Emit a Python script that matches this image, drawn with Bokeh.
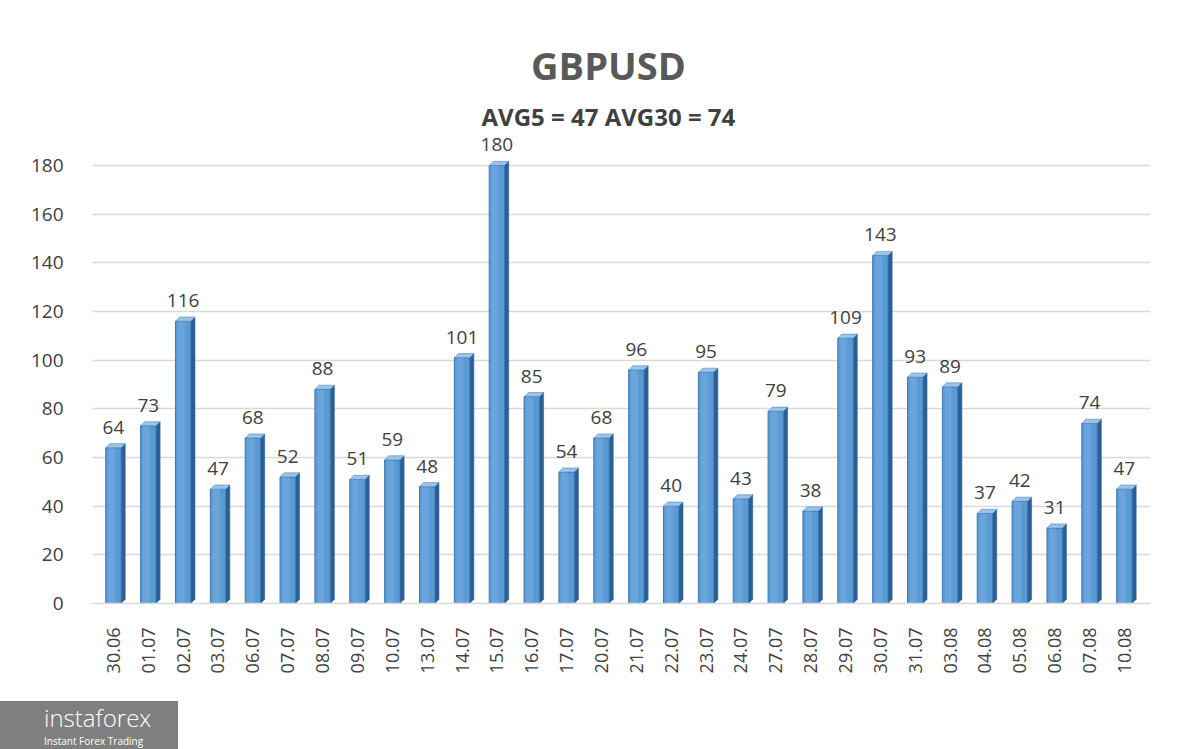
import numpy as np
from bokeh.plotting import figure
from bokeh.models import FixedTicker, Label, ColumnDataSource, Div
from bokeh.layouts import column
from bokeh.core.properties import value
from bokeh.embed import file_html
from bokeh.resources import INLINE

# ---- data ----
dates = ["30.06", "01.07", "02.07", "03.07", "06.07", "07.07", "08.07", "09.07",
         "10.07", "13.07", "14.07", "15.07", "16.07", "17.07", "20.07", "21.07",
         "22.07", "23.07", "24.07", "27.07", "28.07", "29.07", "30.07", "31.07",
         "03.08", "04.08", "05.08", "06.08", "07.08", "10.08"]
values = [64, 73, 116, 47, 68, 52, 88, 51, 59, 48, 101, 180, 85, 54, 68, 96,
          40, 95, 43, 79, 38, 109, 143, 93, 89, 37, 42, 31, 74, 47]
y_ticks = [0, 20, 40, 60, 80, 100, 120, 140, 160, 180]
title_text = "GBPUSD"
subtitle_text = "AVG5 = 47 AVG30 = 74"
logo_name = "instaforex"
logo_tagline = "Instant Forex Trading"

FONT = "Open Sans"
TEXT_COLOR = "#404040"

x = np.arange(len(values))
v = np.array(values, dtype=float)

W = 1184
H = 701
FRAME_BOTTOM = 603
p = figure(width=W, height=H, output_backend="svg", toolbar_location=None,
           x_range=(-0.6, 29.75), y_range=(0, 247.8),
           min_border_left=92, min_border_right=34, min_border_top=0,
           min_border_bottom=H - FRAME_BOTTOM)
p.outline_line_color = None
p.background_fill_color = "white"
p.border_fill_color = "white"

# grid
p.xgrid.grid_line_color = None
p.ygrid.grid_line_color = "#D9D9D9"
p.ygrid.grid_line_width = 1.5

# bars: 3D look (front, side, top)
bw = 0.44
dx = 0.12
dy = 1.7
front = ColumnDataSource(dict(x=x, top=v))
side_xs = [[xi + bw / 2, xi + bw / 2 + dx, xi + bw / 2 + dx, xi + bw / 2] for xi in x]
side_ys = [[0, dy, vi + dy, vi] for vi in v]
top_xs = [[xi - bw / 2, xi + bw / 2, xi + bw / 2 + dx, xi - bw / 2 + dx] for xi in x]
top_ys = [[vi, vi, vi + dy, vi + dy] for vi in v]

p.patches(side_xs, side_ys, fill_color="#2C5F93", line_color="#2C5F93", line_width=0.5)
p.vbar(x="x", top="top", width=bw, bottom=0, source=front,
       fill_color="#5B9BD5", line_color="#3D78B0", line_width=1)
p.vbar(x=x - bw * 0.12, top=v, width=bw * 0.45, bottom=0,
       fill_color="#6FA9DE", line_color=None, fill_alpha=0.7)
p.patches(top_xs, top_ys, fill_color="#9CC3E8", line_color="#3D78B0", line_width=0.5)

# value labels
p.text(x=x, y=v + dy, text=[str(int(val)) for val in values],
       text_font=value(FONT), text_font_size="19px", text_color=TEXT_COLOR,
       text_align="center", text_baseline="bottom", y_offset=-10)

# axes
p.xaxis.ticker = FixedTicker(ticks=list(range(len(dates))))
p.xaxis.major_label_overrides = {i: d for i, d in enumerate(dates)}
p.xaxis.major_label_orientation = np.pi / 2
p.xaxis.major_label_text_font = FONT
p.xaxis.major_label_text_font_size = "18px"
p.xaxis.major_label_text_color = TEXT_COLOR
p.xaxis.major_label_standoff = 18
p.xaxis.axis_line_color = "#D9D9D9"
p.xaxis.axis_line_width = 1.5
p.xaxis.major_tick_line_color = None
p.xaxis.minor_tick_line_color = None

p.yaxis.ticker = FixedTicker(ticks=y_ticks)
p.yaxis.major_label_text_font = FONT
p.yaxis.major_label_text_font_size = "19px"
p.yaxis.major_label_text_color = TEXT_COLOR
p.yaxis.major_label_standoff = 23
p.yaxis.axis_line_color = None
p.yaxis.major_tick_line_color = None
p.yaxis.minor_tick_line_color = None

# titles
p.add_layout(Label(x=14.2, y=221.2, text=title_text, text_font=FONT,
                   text_font_size="38px", text_font_style="bold",
                   text_color="#595959", text_align="center", text_baseline="middle"))
p.add_layout(Label(x=14.2, y=200.1, text=subtitle_text, text_font=FONT,
                   text_font_size="24px", text_font_style="bold",
                   text_color=TEXT_COLOR, text_align="center", text_baseline="middle"))

logo = Div(text=(
    '<div style="background:#7F7F7F;width:178px;height:48px;color:white;'
    'font-family:\'Open Sans\';padding-left:44px;box-sizing:border-box;">'
    '<div style="font-size:24px;line-height:33px;font-weight:300;">'
    + logo_name + '</div>'
    '<div style="font-size:10px;line-height:14px;">' + logo_tagline + '</div></div>'),
    width=178, height=48, margin=(0, 0, 0, 0))

layout = column(p, logo, spacing=0)
open("out.html", "w").write(file_html(layout, INLINE))
